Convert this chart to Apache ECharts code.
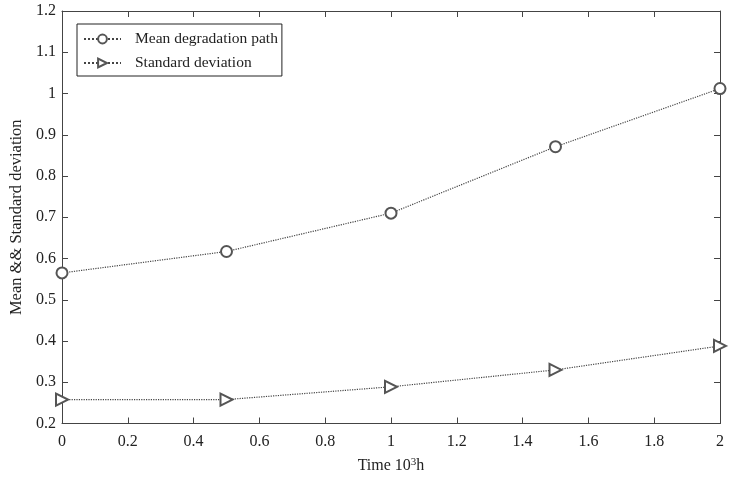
<!DOCTYPE html>
<html>
<head>
<meta charset="utf-8">
<script src="https://cdn.jsdelivr.net/npm/echarts@6/dist/echarts.min.js"></script>
<style>
  html, body { margin: 0; padding: 0; background: #fff; }
  #chart { width: 736px; height: 479px; }
</style>
</head>
<body>
<div id="chart"></div>
<script>
// time in 10^3 h
const times = [0, 0.5, 1, 1.5, 2];
const meanPath = [0.565, 0.617, 0.71, 0.871, 1.012];
const stdDev = [0.258, 0.258, 0.289, 0.33, 0.388];
const seriesNames = ['Mean degradation path', 'Standard deviation'];

const font = 'Liberation Serif';
const axisColor = '#444';

function pairs(ys) {
  return times.map((t, i) => [t, ys[i]]);
}

const chart = echarts.init(document.getElementById('chart'));

const baseX = {
  type: 'value',
  min: 0,
  max: 2,
  interval: 0.2,
  axisLine: { show: true, onZero: false, lineStyle: { color: axisColor, width: 1 } },
  axisTick: { show: true, inside: true, length: 6, lineStyle: { color: axisColor } },
  splitLine: { show: false },
};
const baseY = {
  type: 'value',
  min: 0.2,
  max: 1.2,
  interval: 0.1,
  axisLine: { show: true, onZero: false, lineStyle: { color: axisColor, width: 1 } },
  axisTick: { show: true, inside: true, length: 6, lineStyle: { color: axisColor } },
  splitLine: { show: false },
};

const option = {
  animation: false,
  backgroundColor: '#fff',
  textStyle: { fontFamily: font },
  grid: { left: 62, right: 16, top: 11, bottom: 52 },
  legend: {
    left: 77,
    top: 24,
    orient: 'vertical',
    data: seriesNames,
    borderColor: '#222',
    borderWidth: 1,
    padding: [7, 4, 5, 6],
    itemGap: 8,
    itemWidth: 37,
    itemHeight: 11,
    symbolRotate: 'inherit',
    textStyle: { fontFamily: font, fontSize: 15.5, color: '#222', padding: [0, 0, 0, 9] },
  },
  xAxis: [
    Object.assign({}, baseX, {
      position: 'bottom',
      axisLabel: { fontFamily: font, fontSize: 16, color: '#222', margin: 10,
        formatter: (v) => String(Math.round(v * 10) / 10) },
      name: 'Time 10{sup|3}h',
      nameLocation: 'middle',
      nameGap: 33,
      nameTextStyle: {
        fontFamily: font, fontSize: 16, color: '#222',
        rich: { sup: { fontFamily: font, fontSize: 11, color: '#222', verticalAlign: 'top', padding: [0, 0, 8, 0] } },
      },
    }),
    Object.assign({}, baseX, { position: 'top', axisLabel: { show: false } }),
  ],
  yAxis: [
    Object.assign({}, baseY, {
      position: 'left',
      axisLabel: { fontFamily: font, fontSize: 16, color: '#222', margin: 6,
        formatter: (v) => String(Math.round(v * 10) / 10) },
      name: 'Mean && Standard deviation',
      nameLocation: 'middle',
      nameGap: 35,
      nameTextStyle: { fontFamily: font, fontSize: 16.5, color: '#222' },
    }),
    Object.assign({}, baseY, { position: 'right', axisLabel: { show: false } }),
  ],
  series: [
    {
      name: seriesNames[0],
      type: 'line',
      data: pairs(meanPath),
      symbol: 'emptyCircle',
      symbolSize: 11,
      color: '#555',
      lineStyle: { type: 'dotted', width: 1.2, color: '#444' },
      itemStyle: { color: '#555', borderColor: '#555', borderWidth: 0.9 },
    },
    {
      name: seriesNames[1],
      type: 'line',
      data: pairs(stdDev),
      symbol: 'emptyTriangle',
      symbolRotate: -90,
      symbolSize: 12,
      color: '#555',
      lineStyle: { type: 'dotted', width: 1.2, color: '#444' },
      itemStyle: { color: '#555', borderColor: '#555', borderWidth: 0.9 },
    },
  ],
};

chart.setOption(option);
</script>
</body>
</html>
